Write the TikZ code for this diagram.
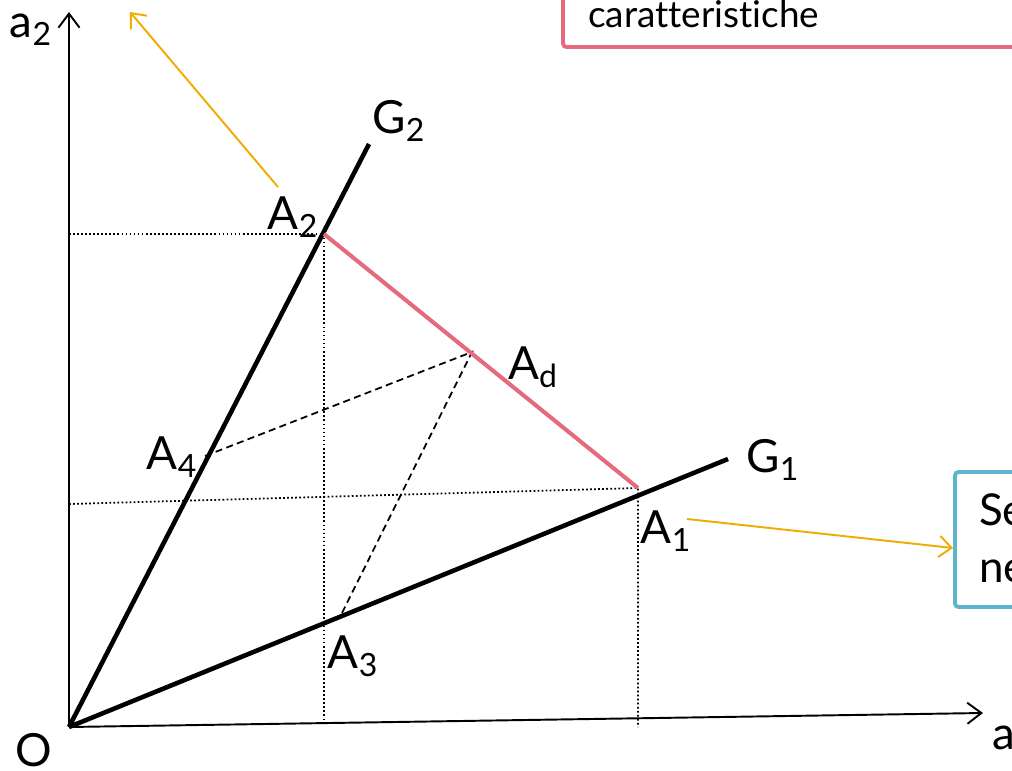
\documentclass[tikz,border=0pt]{standalone}
\usepackage{fontspec}
\setmainfont[Ligatures=NoCommon]{Lato}
\usetikzlibrary{arrows.meta}

\definecolor{rosa}{RGB}{229,106,125}
\definecolor{giallo}{RGB}{240,172,0}
\definecolor{azzurro}{RGB}{94,180,205}

\tikzset{
  lbl/.style={font=\fontsize{26}{30}\selectfont},
  retta/.style={line width=2.6pt},
  asse/.style={line width=1.1pt,-{Straight Barb[length=8pt,width=12pt]}},
  freccia/.style={giallo,line width=1.1pt,-{Straight Barb[length=7pt,width=12pt]}},
  guida/.style={line width=1pt,dash pattern=on 1pt off 1.3pt},
  tratt/.style={line width=1pt,dash pattern=on 4pt off 2.5pt}
}

\begin{document}
\begin{tikzpicture}[x=0.02cm,y=-0.02cm]
\useasboundingbox (0,0) rectangle (1012,771);
\clip (0,0) rectangle (1012,771);

\coordinate (O) at (69,727);
\coordinate (Y) at (69,12);
\coordinate (X) at (983,713);
\coordinate (G2) at (369,144);
\coordinate (G1) at (728,459);
\coordinate (A2) at (324,234);
\coordinate (A1) at (638,488);
\coordinate (Ad) at (472,352);
\coordinate (A4) at (205,456);
\coordinate (A3) at (340,617);
\coordinate (Y2) at (69,234);
\coordinate (Y1) at (69,504);
\coordinate (X2) at (324,723);
\coordinate (X1) at (638,727);

% assi
\draw[asse] (O)--(Y);
\draw[asse] (O)--(X);

% linee di richiamo
\draw[guida] (Y2)--(A2)--(X2);
\draw[guida] (Y1)--(A1)--(X1);

% rette
\draw[retta] (O)--(G2);
\draw[retta] (O)--(G1);

\draw[tratt] (A4)--(Ad)--(A3);
\draw[rosa,line width=2.3pt] (A2)--(A1);

% riquadri
\draw[rosa,line width=2.2pt,rounded corners=2pt] (563,-20) rectangle (1040,47);
\node[anchor=base west,font=\fontsize{21}{25}\selectfont] (car) at (582,27) {caratteristiche};

\draw[azzurro,line width=2.2pt,rounded corners=2pt] (955,472) rectangle (1040,607);
\node[anchor=base west,font=\fontsize{25}{30}\selectfont] (se) at (973,525) {Se};
\node[anchor=base west,font=\fontsize{25}{30}\selectfont] (ne) at (973,582) {ne};

\coordinate (F1) at (278,187);
\coordinate (F2) at (130,12);
\coordinate (F3) at (687,519);
\coordinate (F4) at (953,548);
\draw[freccia] (F1)--(F2);
\draw[freccia] (F3)--(F4);

% etichette
\node[lbl] (lO) at (34,750) {O};
\node[lbl] (la2) at (31,30) {a\textsubscript{2}};
\node[lbl,anchor=west] (la1) at (986,742) {a\textsubscript{1}};
\node[lbl] (lG2) at (399,121) {G\textsubscript{2}};
\node[lbl] (lG1) at (773,460) {G\textsubscript{1}};
\node[lbl] (lA2) at (293,217) {A\textsubscript{2}};
\node[lbl] (lA1) at (666,531) {A\textsubscript{1}};
\node[lbl] (lA4) at (172,457) {A\textsubscript{4}};
\node[lbl] (lA3) at (353,656) {A\textsubscript{3}};
\node[lbl] (lAd) at (533,367) {A\textsubscript{d}};

\end{tikzpicture}
\end{document}
